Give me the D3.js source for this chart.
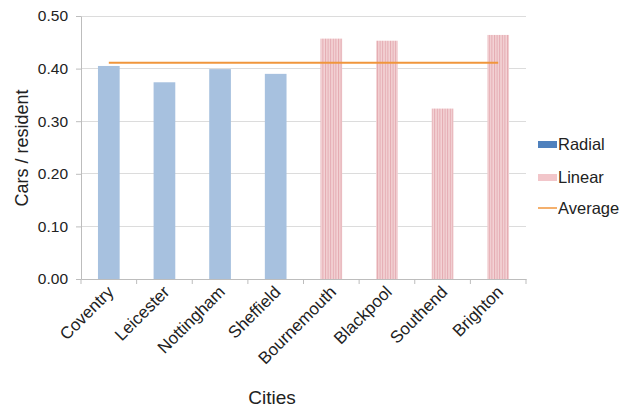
<!DOCTYPE html>
<html><head><meta charset="utf-8">
<script src="https://cdn.jsdelivr.net/npm/d3@7"></script>
<style>body{margin:0;background:#fff;} svg{display:block;font-family:"Liberation Sans",Arial,sans-serif;}</style>
</head><body>
<svg id="chart" width="621" height="410"></svg>
<script>
const cities = ["Coventry","Leicester","Nottingham","Sheffield","Bournemouth","Blackpool","Southend","Brighton"];
const types = ["Radial","Radial","Radial","Radial","Linear","Linear","Linear","Linear"];
const carsPerResident = [0.405,0.374,0.399,0.390,0.457,0.453,0.324,0.464];
const average = [0.411,0.411,0.411,0.411,0.411,0.411,0.411,0.411];
const yTicks = [0,0.1,0.2,0.3,0.4,0.5];
const legendItems = ["Radial","Linear","Average"];

const svg = d3.select("#chart");
const m = {l:81, r:95, t:16, b:131};
const W = 621, H = 410;
const x = d3.scaleBand().domain(cities).range([m.l, W-m.r]).paddingInner(0.61).paddingOuter(0.305);
const xAxisBand = d3.scaleBand().domain(cities).range([m.l, W-m.r]);
const y = d3.scaleLinear().domain([0,0.5]).range([H-m.b, m.t]);

const defs = svg.append("defs");
const pat = defs.append("pattern").attr("id","stripes").attr("patternUnits","userSpaceOnUse").attr("width",2.6).attr("height",10);
pat.append("rect").attr("width",2.6).attr("height",10).attr("fill","#F3D3D5");
pat.append("rect").attr("width",1).attr("height",10).attr("fill","#E4AAB1");

// gridlines
svg.append("g").selectAll("line").data(yTicks.slice(1)).join("line")
  .attr("x1",m.l).attr("x2",W-m.r).attr("y1",d=>y(d)).attr("y2",d=>y(d))
  .attr("stroke","#DCDCDC").attr("stroke-width",1).attr("shape-rendering","crispEdges");

// y axis
const ya = svg.append("g").attr("transform",`translate(${m.l},0)`)
  .call(d3.axisLeft(y).tickValues(yTicks).tickFormat(d3.format(".2f")).tickSize(5).tickSizeOuter(0).tickPadding(8));
ya.select(".domain").attr("stroke","#BDBDBD");
ya.selectAll(".tick line").attr("stroke","#BDBDBD");
ya.selectAll("text").attr("font-size",15.5).attr("fill","#222");

// bars
svg.append("g").selectAll("rect").data(cities).join("rect")
  .attr("x",d=>x(d)).attr("width",x.bandwidth())
  .attr("y",(d,i)=>y(carsPerResident[i])).attr("height",(d,i)=>y(0)-y(carsPerResident[i]))
  .attr("fill",(d,i)=>types[i]==="Radial"?"#A7C1DF":"url(#stripes)");

// x axis
const xa = svg.append("g").attr("transform",`translate(0,${y(0)})`)
  .call(d3.axisBottom(xAxisBand).tickSize(0).tickSizeOuter(0).tickFormat(""));
xa.select(".domain").attr("stroke","#BDBDBD");
const bw = xAxisBand.bandwidth();
svg.append("g").selectAll("line").data(d3.range(cities.length+1)).join("line")
  .attr("x1",i=>m.l+i*bw).attr("x2",i=>m.l+i*bw).attr("y1",y(0)).attr("y2",y(0)+5)
  .attr("stroke","#BDBDBD");
svg.append("g").selectAll("text").data(cities).join("text")
  .attr("transform",d=>`translate(${xAxisBand(d)+bw/2+6},${y(0)+14}) rotate(-45)`)
  .attr("text-anchor","end").attr("font-size",17).attr("fill","#222").text(d=>d);

// average line
const line = d3.line().x((d,i)=>xAxisBand(cities[i])+bw/2).y(d=>y(d));
svg.append("path").datum(average).attr("d",line).attr("fill","none").attr("stroke","#F0963C").attr("stroke-width",2);

// axis titles
svg.append("text").attr("transform","translate(22,148) rotate(-90)").attr("text-anchor","middle").attr("dy","0.36em")
  .attr("font-size",18).attr("fill","#222").text("Cars / resident");
svg.append("text").attr("x",272).attr("y",404).attr("text-anchor","middle")
  .attr("font-size",19).attr("fill","#222").text("Cities");

// legend
const lg = svg.append("g");
const ly = [144,177,208];
lg.append("rect").attr("x",538).attr("y",ly[0]-3).attr("width",19).attr("height",7).attr("fill","#4F81BD");
lg.append("rect").attr("x",538).attr("y",ly[1]-3).attr("width",19).attr("height",7).attr("fill","#F2C6CA");
lg.append("line").attr("x1",538).attr("x2",557).attr("y1",ly[2]).attr("y2",ly[2]).attr("stroke","#F0963C").attr("stroke-width",1.5);
lg.selectAll("text").data(legendItems).join("text")
  .attr("x",558).attr("y",(d,i)=>ly[i]).attr("dy","0.36em").attr("font-size",16.5).attr("fill","#222").text(d=>d);
</script>
</body></html>
